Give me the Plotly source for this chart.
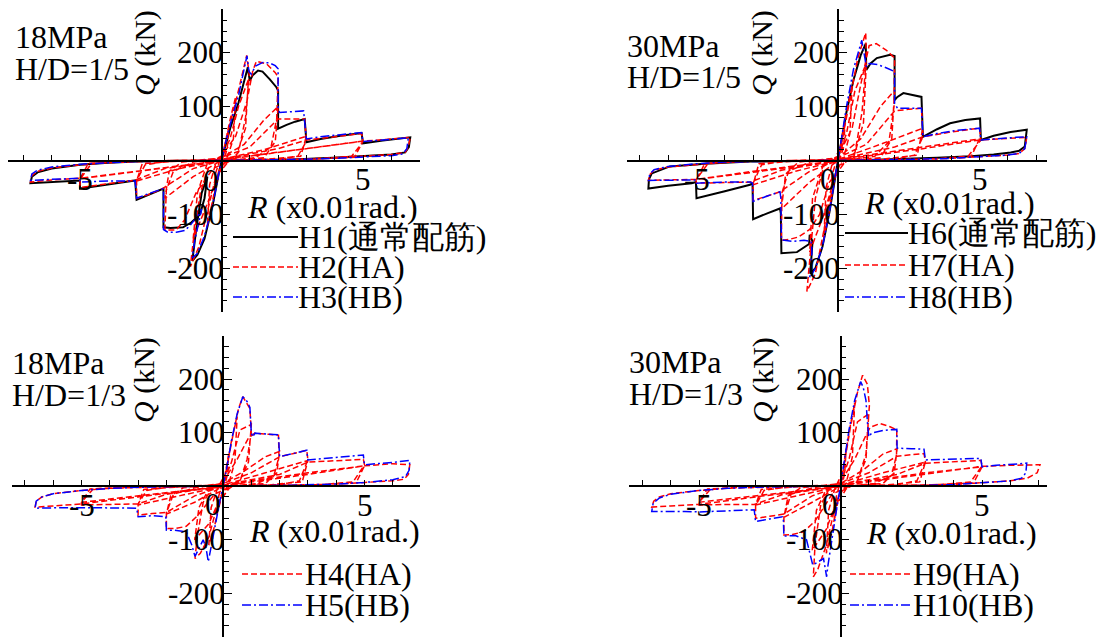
import plotly.graph_objects as go

W, H = 1102, 640
FONT = "Liberation Serif"

# ---------------- data: (R [x0.01 rad.], Q [kN]) ----------------
# 18MPa, H/D=1/5
h1 = [(0,0),(0.15,30),(0.32,62),(0.6,107),(0.85,155),(0.93,173),(1.0,148),(1.1,158),(1.29,167),(1.45,165),
      (1.7,151),(1.94,136),(2.0,130),(2.0,59),(2.3,66),(2.6,72),(2.94,77),(3.0,34),(3.5,40),(4.2,46),(4.95,51),
      (5.0,32),(5.7,37),(6.3,41),(6.67,43),(6.62,25),(6.49,15),(6.0,11),(5.0,8),(3.94,5),(2.5,2),(1.0,0.5),(0,0),
      (-0.1,-25),(-0.3,-80),(-0.6,-145),(-0.85,-175),(-1.03,-186),(-0.9,-130),(-0.7,-60),(-0.5,-30),(-0.6,-70),
      (-0.76,-100),(-1.07,-115),(-1.36,-124),(-1.8,-125),(-2.05,-124),(-2.05,-52),(-2.5,-62),(-3.0,-73),(-3.05,-37),
      (-4.0,-44),(-5.0,-52),(-5.0,-37),(-6.0,-40),(-6.75,-42),(-6.7,-30),(-6.5,-22),(-6.0,-15),(-5.0,-8),(-4.0,-4),
      (-3.0,-2),(-1.5,-0.5),(0,0)]
h2 = [(0,0),(0.12,30),(0.25,58),(0.2,20),(0.05,0),(-0.1,-25),(-0.25,-60),(-0.2,-22),(-0.05,0),
      (0.1,25),(0.3,75),(0.5,118),(0.42,40),(0.2,5),(-0.1,-20),(-0.3,-70),(-0.5,-122),(-0.42,-45),(-0.2,-5),
      (0.05,15),(0.3,65),(0.6,130),(0.8,175),(0.89,195),(0.98,160),(0.85,80),(0.6,15),(0.2,-5),(-0.2,-30),
      (-0.5,-95),(-0.8,-160),(-1.1,-197),(-1.0,-150),(-0.75,-60),(-0.4,-5),(0,5),
      (0.3,40),(0.6,100),(0.95,150),(0.85,60),(0.5,5),(0,-10),(-0.5,-80),(-1.0,-145),(-0.85,-60),(-0.5,-5),(0,8),
      (0.5,45),(0.9,110),(1.1,165),(1.23,184),(1.6,179),(1.9,163),(2.0,155),(1.95,77),(1.75,25),(1.2,5),(0.3,0),
      (-0.3,-15),(-0.9,-60),(-1.3,-110),(-1.6,-129),(-2.0,-129),(-1.95,-55),(-1.7,-20),(-1.0,-3),(0,5),
      (0.8,30),(1.5,75),(2.0,100),(1.9,35),(1.5,5),(0,0),(-1.0,-30),(-2.0,-70),(-1.85,-20),(-1.4,-3),(0,5),
      (1.0,25),(2.0,77),(2.5,77),(2.94,77),(3.0,36),(2.7,8),(2.0,2),(0,0),(-1.0,-15),(-2.08,-52),(-2.5,-62),
      (-3.0,-70),(-3.0,-37),(-2.7,-8),(-2.0,-2),(0,2),
      (1.5,20),(3.0,45),(2.8,8),(1.5,2),(0,0),(-1.5,-15),(-3.0,-38),(-2.8,-6),(-1.5,-1),(0,2),
      (2.0,22),(3.0,38),(4.0,44),(4.95,50),(5.0,35),(4.6,8),(3.5,3),(0,0),(-2.0,-15),(-3.09,-37),(-4.0,-43),
      (-5.0,-50),(-5.0,-35),(-4.6,-6),(-3.5,-2),(0,2),
      (3,22),(5,36),(4.7,6),(3,2),(0,0),(-3,-20),(-5,-34),(-4.7,-5),(-3,-1),(0,1),
      (3.0,22),(5.0,36),(5.8,39),(6.67,43),(6.6,25),(6.49,15),(6.0,11),(5.0,8),(3.94,5),(2.5,2),(0,0),
      (-3.0,-20),(-5.0,-33),(-6.0,-36),(-6.75,-40),(-6.7,-28),(-6.5,-20),(-6.0,-14),(-5.0,-8),(-4.0,-4),
      (-3.0,-2),(-1.5,0)]
h3 = [(0,0),(0.15,35),(0.35,75),(0.6,120),(0.8,170),(0.9,194),(0.97,165),(1.05,160),(1.2,175),(1.46,182),
      (1.7,181),(1.9,176),(2.0,170),(2.0,99),(2.05,89),(2.5,91),(2.9,92),(3.0,40),(3.5,44),(4.2,48),(4.95,52),
      (5.0,35),(5.7,38),(6.3,41),(6.6,42),(6.55,22),(6.4,12),(6.0,9),(5.0,6),(4.0,4),(2.5,2),(1.0,0.5),(0,0),
      (-0.1,-25),(-0.3,-80),(-0.6,-140),(-0.85,-172),(-1.03,-181),(-0.95,-150),(-0.7,-90),(-0.8,-100),(-1.1,-120),
      (-1.3,-130),(-1.6,-133),(-1.9,-133),(-2.05,-128),(-2.05,-52),(-2.5,-60),(-3.0,-70),(-3.05,-38),(-4.0,-38),
      (-5.0,-40),(-5.0,-33),(-6.0,-35),(-6.75,-37),(-6.7,-25),(-6.5,-18),(-6.0,-12),(-5.0,-7),(-4.0,-4),
      (-3.0,-2),(-1.5,-0.5),(0,0)]

# 30MPa, H/D=1/5
h6 = [(0,0),(0.1,30),(0.3,90),(0.55,150),(0.8,195),(0.98,217),(1.0,168),(1.15,180),(1.37,190),(1.84,196),
      (2.0,194),(2.0,112),(2.1,118),(2.31,125),(2.6,122),(2.95,118),(3.0,44),(3.5,58),(3.96,69),(4.5,75),
      (5.02,78),(5.05,38),(5.5,46),(6.1,53),(6.67,57),(6.6,26),(6.4,18),(6.1,15),(5.5,11),(4.7,8),(3.5,5),
      (2.0,2),(0.5,0),(0,0),
      (-0.1,-30),(-0.3,-95),(-0.55,-160),(-0.8,-200),(-0.98,-210),(-0.9,-150),(-1.0,-138),(-1.02,-155),
      (-1.45,-170),(-2.0,-172),(-2.02,-98),(-2.05,-89),(-2.5,-98),(-3.0,-109),(-3.02,-42),(-3.11,-45),(-4.0,-57),
      (-5.0,-70),(-5.02,-40),(-5.17,-42),(-6.0,-47),(-6.7,-52),(-6.68,-35),(-6.58,-24),(-5.94,-11),(-4.7,-6),
      (-3.1,-2),(-1.5,-0.5),(0,0)]
h7 = [(0,0),(0.12,35),(0.25,70),(0.2,25),(0.05,0),(-0.1,-30),(-0.25,-72),(-0.2,-25),(-0.05,0),
      (0.1,30),(0.3,90),(0.5,140),(0.42,50),(0.2,5),(-0.1,-25),(-0.3,-90),(-0.5,-145),(-0.42,-50),(-0.2,-5),
      (0.1,25),(0.4,110),(0.7,190),(0.98,237),(1.0,190),(0.85,90),(0.6,15),(0.2,-5),(-0.2,-40),(-0.5,-130),
      (-0.8,-210),(-1.1,-243),(-1.0,-180),(-0.8,-70),(-0.5,-10),(0,5),
      (0.3,50),(0.6,130),(1.0,180),(0.9,70),(0.55,5),(0,-10),(-0.5,-100),(-1.0,-170),(-0.9,-70),(-0.5,-5),(0,8),
      (0.5,60),(0.8,140),(1.0,190),(1.1,213),(1.35,217),(1.7,205),(2.0,190),(1.98,100),(1.8,35),(1.3,8),(0.3,0),
      (-0.3,-40),(-0.65,-100),(-1.0,-128),(-1.4,-142),(-1.7,-146),(-2.0,-148),(-1.98,-60),(-1.75,-20),(-1.0,-3),
      (0,5),
      (0.8,40),(1.5,100),(2.0,130),(1.9,40),(1.5,5),(0,0),(-1.0,-40),(-2.0,-90),(-1.85,-25),(-1.4,-3),(0,5),
      (1.0,30),(2.0,92),(2.5,95),(2.95,97),(3.0,44),(2.7,10),(2.0,2),(0,0),(-1.0,-20),(-2.05,-58),(-2.5,-66),
      (-3.0,-74),(-3.0,-42),(-2.7,-8),(-2.0,-2),(0,2),
      (1.5,30),(3.0,60),(2.8,10),(1.5,2),(0,0),(-1.5,-20),(-3.0,-45),(-2.8,-6),(-1.5,-1),(0,2),
      (2.0,25),(3.0,44),(4.0,53),(5.0,60),(5.05,38),(4.6,8),(3.5,3),(0,0),(-2.0,-18),(-3.1,-40),(-4.0,-41),
      (-5.0,-42),(-5.02,-36),(-4.6,-6),(-3.5,-2),(0,2),
      (3,25),(5,40),(4.7,7),(3,2),(0,0),(-3,-20),(-5,-35),(-4.7,-5),(-3,-1),(0,1),
      (3.0,22),(5.0,38),(6.0,41),(6.67,43),(6.6,22),(6.4,13),(6.0,10),(5.0,7),(4.0,4),(2.5,2),(0,0),
      (-3.0,-22),(-5.0,-35),(-6.0,-36),(-6.7,-37),(-6.65,-26),(-6.5,-18),(-6.0,-12),(-5.0,-7),(-4.0,-3),
      (-3.0,-1.5),(-1.5,0)]
h8 = [(0,0),(0.1,35),(0.3,100),(0.55,170),(0.75,210),(0.84,223),(0.95,190),(1.0,174),(1.1,180),(1.4,178),
      (1.7,172),(2.0,165),(2.0,106),(2.1,97),(2.5,97),(2.95,97),(3.0,44),(3.5,50),(4.2,56),(5.0,60),(5.05,38),
      (5.7,41),(6.3,43),(6.67,44),(6.6,22),(6.4,13),(6.0,10),(5.0,7),(4.0,4),(2.5,2),(1.0,0.5),(0,0),
      (-0.1,-30),(-0.3,-95),(-0.55,-160),(-0.8,-200),(-1.0,-218),(-0.92,-170),(-0.95,-150),(-1.2,-148),
      (-1.6,-150),(-2.0,-147),(-2.02,-70),(-2.05,-58),(-2.5,-66),(-3.0,-76),(-3.02,-42),(-3.1,-40),(-4.0,-40),
      (-5.0,-42),(-5.02,-36),(-6.0,-36),(-6.7,-37),(-6.65,-25),(-6.5,-17),(-6.0,-11),(-5.0,-6),(-4.0,-3),
      (-3.0,-1.5),(-1.5,-0.5),(0,0)]

# 18MPa, H/D=1/3
h4 = [(0,0),(0.1,30),(0.2,60),(0.15,20),(0.05,0),(-0.1,-25),(-0.2,-50),(-0.15,-18),(-0.05,0),
      (0.1,25),(0.3,85),(0.5,130),(0.42,45),(0.2,5),(-0.1,-25),(-0.3,-75),(-0.5,-110),(-0.42,-40),(-0.2,-5),
      (0.1,25),(0.35,95),(0.55,145),(0.7,167),(0.95,145),(1.0,100),(0.85,50),(0.6,10),(0.2,-5),(-0.2,-35),
      (-0.5,-95),(-0.8,-125),(-0.99,-135),(-0.9,-90),(-0.7,-30),(-0.4,-5),(0,5),
      (0.3,45),(0.6,105),(1.0,115),(0.9,45),(0.55,5),(0,-10),(-0.5,-70),(-1.0,-100),(-0.85,-40),(-0.5,-5),(0,8),
      (0.5,50),(0.9,90),(1.13,99),(1.6,97),(1.96,95),(1.98,55),(1.8,20),(1.2,5),(0.3,0),(-0.3,-15),(-0.9,-55),
      (-1.3,-75),(-1.7,-79),(-2.0,-79),(-2.0,-50),(-1.75,-15),(-1.0,-3),(0,5),
      (0.8,30),(1.5,55),(2.0,65),(1.9,25),(1.5,5),(0,0),(-1.0,-30),(-2.0,-52),(-1.85,-18),(-1.4,-3),(0,5),
      (1.0,25),(2.0,55),(2.5,61),(2.96,67),(3.0,49),(2.7,10),(2.0,3),(0,0),(-1.0,-18),(-2.0,-49),(-2.5,-51),
      (-3.0,-54),(-3.0,-33),(-2.7,-8),(-2.0,-2),(0,2),
      (1.5,25),(3.0,48),(2.8,8),(1.5,2),(0,0),(-1.5,-18),(-3.0,-35),(-2.8,-6),(-1.5,-1),(0,2),
      (2.0,22),(3.0,45),(4.0,47),(4.96,50),(5.0,40),(4.6,8),(3.5,3),(0,0),(-2.0,-15),(-3.0,-33),(-4.0,-34),
      (-5.0,-35),(-5.0,-30),(-4.6,-6),(-3.5,-2),(0,2),
      (3,25),(5,38),(4.7,6),(3,2),(0,0),(-3,-18),(-5,-30),(-4.7,-5),(-3,-1),(0,1),
      (3.0,22),(5.0,38),(6.0,42),(6.6,40),(6.55,22),(6.4,13),(6.0,10),(5.0,7),(4.0,4),(2.5,2),(0,0),
      (-3.0,-20),(-5.0,-33),(-6.0,-37),(-6.64,-39),(-6.6,-28),(-6.4,-20),(-6.0,-14),(-5.0,-8),(-4.0,-4),
      (-3.0,-2),(-1.5,0)]
h5 = [(0,0),(0.1,25),(0.3,85),(0.5,135),(0.7,167),(0.85,158),(0.95,147),(1.0,100),(1.05,92),(1.13,99),
      (1.6,97),(1.96,96),(2.0,55),(2.5,61),(2.96,67),(3.0,49),(3.5,51),(4.2,55),(4.96,58),(5.0,40),(5.5,42),
      (6.1,45),(6.6,48),(6.58,30),(6.45,18),(6.0,12),(5.0,7),(4.0,4),(2.5,2),(1.0,0.5),(0,0),
      (-0.1,-25),(-0.3,-80),(-0.45,-125),(-0.52,-141),(-0.6,-115),(-0.7,-100),(-0.99,-131),(-1.1,-110),
      (-1.3,-85),(-1.7,-82),(-2.0,-82),(-2.02,-57),(-2.5,-55),(-3.0,-57),(-3.05,-41),(-4.0,-40),(-5.0,-40),
      (-5.5,-40),(-6.0,-41),(-6.64,-41),(-6.6,-28),(-6.4,-20),(-6.0,-14),(-5.0,-8),(-4.0,-4),(-3.0,-2),
      (-1.5,-0.5),(0,0)]

# 30MPa, H/D=1/3
h9 = [(0,0),(0.1,35),(0.2,70),(0.15,25),(0.05,0),(-0.1,-30),(-0.2,-60),(-0.15,-20),(-0.05,0),
      (0.1,30),(0.3,100),(0.5,155),(0.42,55),(0.2,5),(-0.1,-25),(-0.3,-85),(-0.5,-125),(-0.42,-45),(-0.2,-5),
      (0.1,30),(0.35,110),(0.6,175),(0.78,207),(0.95,190),(1.02,150),(0.9,60),(0.6,10),(0.2,-5),(-0.2,-40),
      (-0.5,-110),(-0.8,-155),(-0.96,-169),(-0.9,-110),(-0.7,-35),(-0.4,-5),(0,5),
      (0.3,50),(0.6,120),(1.0,135),(0.9,50),(0.55,5),(0,-10),(-0.5,-80),(-1.0,-120),(-0.85,-45),(-0.5,-5),(0,8),
      (0.5,50),(0.9,95),(1.05,110),(1.4,117),(1.75,111),(1.99,105),(1.98,58),(1.8,20),(1.2,5),(0.3,0),
      (-0.3,-15),(-0.9,-65),(-1.3,-85),(-1.7,-90),(-2.0,-91),(-2.0,-57),(-1.75,-15),(-1.0,-3),(0,5),
      (0.8,30),(1.5,60),(2.0,70),(1.9,25),(1.5,5),(0,0),(-1.0,-30),(-2.0,-58),(-1.85,-18),(-1.4,-3),(0,5),
      (1.0,25),(2.0,56),(2.5,59),(2.95,61),(3.0,46),(2.7,10),(2.0,3),(0,0),(-1.0,-18),(-2.0,-52),(-2.5,-56),
      (-3.0,-60),(-3.0,-36),(-2.7,-8),(-2.0,-2),(0,2),
      (1.5,25),(3.0,45),(2.8,8),(1.5,2),(0,0),(-1.5,-18),(-3.0,-35),(-2.8,-6),(-1.5,-1),(0,2),
      (2.0,22),(3.0,43),(4.0,46),(4.96,48),(5.0,38),(4.6,8),(3.5,3),(0,0),(-2.0,-15),(-3.05,-34),(-4.0,-34),
      (-5.0,-35),(-5.0,-30),(-4.6,-6),(-3.5,-2),(0,2),
      (3,25),(5,36),(4.7,6),(3,2),(0,0),(-3,-18),(-5,-30),(-4.7,-5),(-3,-1),(0,1),
      (3.0,22),(5.0,37),(6.0,39),(7.05,40),(6.95,25),(6.6,15),(6.0,10),(5.0,6),(4.0,3),(2.5,1),(0,0),
      (-3.0,-20),(-5.0,-34),(-6.0,-37),(-6.67,-39),(-6.6,-28),(-6.4,-20),(-6.0,-14),(-5.0,-8),(-4.0,-4),
      (-3.0,-2),(-1.5,0)]
h10 = [(0,0),(0.1,35),(0.3,105),(0.5,160),(0.71,195),(0.8,185),(0.9,160),(0.95,120),(1.0,92),(1.1,99),
       (1.5,104),(1.99,106),(2.0,71),(2.5,70),(2.95,69),(3.0,49),(3.5,50),(4.2,51),(4.96,52),(5.0,36),(5.5,39),
       (6.1,41),(6.58,43),(6.55,25),(6.4,15),(6.0,10),(5.0,6),(4.0,3),(2.5,1),(1.0,0.5),(0,0),
       (-0.1,-30),(-0.3,-95),(-0.45,-150),(-0.49,-169),(-0.55,-150),(-0.6,-135),(-0.98,-147),(-1.05,-130),
       (-1.2,-100),(-1.6,-92),(-2.0,-93),(-2.02,-60),(-2.05,-57),(-2.5,-61),(-3.0,-66),(-3.05,-44),(-4.0,-46),
       (-5.0,-48),(-5.5,-47),(-6.0,-47),(-6.67,-47),(-6.62,-32),(-6.4,-22),(-6.0,-15),(-5.0,-8),(-4.0,-4),
       (-3.0,-2),(-1.5,-0.5),(0,0)]

# tick labels
x_tickvals = [-5, 5]
x_ticktext = ["-5", "5"]
y_tickvals = [-200, -100, 100, 200]
y_ticktext = ["-200", "-100", "100", "200"]

# ---------------- styles ----------------
STYLE = {
    "black": dict(color="black", width=2, dash="solid"),
    "red": dict(color="#ff0000", width=1.5, dash="6px,3px"),
    "blue": dict(color="#0000ff", width=1.5, dash="9px,3px,2px,3px"),
}
TICK_FS = 31
TEXT_FS = 32

panels = [
    dict(xpx=(8.3, 420), ox=221.5, rows=(9.3, 311.7), oy=160.5, sy=0.539,
         series=[("H1(通常配筋)", h1, "black"), ("H2(HA)", h2, "red"), ("H3(HB)", h3, "blue")],
         label=("18MPa", "H/D=1/5"), lab_x=15, lab_y=(37, 69),
         qtitle=(145, 53), rtitle=(332, 207), zero=(211, 180),
         leg_x=(233, 298), leg_y=[237, 267, 297]),
    dict(xpx=(626.7, 1047), ox=838, rows=(9.3, 311.7), oy=160.5, sy=0.539,
         series=[("H6(通常配筋)", h6, "black"), ("H7(HA)", h7, "red"), ("H8(HB)", h8, "blue")],
         label=("30MPa", "H/D=1/5"), lab_x=627, lab_y=(46, 77),
         qtitle=(762, 53), rtitle=(949, 203), zero=(828, 179),
         leg_x=(845, 908), leg_y=[233, 265, 297]),
    dict(xpx=(11.7, 420), ox=223, rows=(336, 636.7), oy=486.2, sy=0.536,
         series=[("H4(HA)", h4, "red"), ("H5(HB)", h5, "blue")],
         label=("18MPa", "H/D=1/3"), lab_x=12, lab_y=(363, 395),
         qtitle=(144, 380), rtitle=(334, 531), zero=(213, 504),
         leg_x=(242, 305), leg_y=[574, 605]),
    dict(xpx=(629.3, 1047), ox=840.5, rows=(336, 636.7), oy=486.2, sy=0.536,
         series=[("H9(HA)", h9, "red"), ("H10(HB)", h10, "blue")],
         label=("30MPa", "H/D=1/3"), lab_x=629, lab_y=(362, 394),
         qtitle=(763, 380), rtitle=(951, 533), zero=(830, 504),
         leg_x=(850, 913), leg_y=[574, 605]),
]
SX = 28.3

fig = go.Figure()
annotations = []
shapes = []


def ann(text, px, py, xanchor="center", yanchor="middle", angle=0, size=TEXT_FS):
    return dict(text=text, x=px / W, y=1 - py / H, xref="paper", yref="paper",
                xanchor=xanchor, yanchor=yanchor, textangle=angle, showarrow=False,
                font=dict(family=FONT, size=size, color="black"))


layout_axes = {}
draw_order = {"black": 0, "red": 1, "blue": 2}
for i, p in enumerate(panels, start=1):
    xa = "x" if i == 1 else f"x{i}"
    ya = "y" if i == 1 else f"y{i}"
    x0, x1 = p["xpx"]
    r0, r1 = p["rows"]
    xr = [(x0 - p["ox"]) / SX, (x1 - p["ox"]) / SX]
    yr = [(p["oy"] - r1) / p["sy"], (p["oy"] - r0) / p["sy"]]
    xdom = [x0 / W, x1 / W]
    ydom = [1 - r1 / H, 1 - r0 / H]
    xpos = p["ox"] / W
    ypos = 1 - p["oy"] / H
    layout_axes["xaxis" if i == 1 else f"xaxis{i}"] = dict(
        domain=xdom, range=xr, anchor="free", position=ypos, side="bottom",
        showline=True, linecolor="black", linewidth=1.5, showgrid=False, zeroline=False,
        tickmode="array", tickvals=x_tickvals, showticklabels=False,
        ticks="inside", ticklen=5, tickwidth=1.2, tickcolor="black",
        minor=dict(dtick=1, tick0=0, ticks="inside", ticklen=5, tickwidth=1.2, tickcolor="black"),
        fixedrange=True)
    layout_axes["yaxis" if i == 1 else f"yaxis{i}"] = dict(
        domain=ydom, range=yr, anchor="free", position=xpos, side="left",
        showline=True, linecolor="black", linewidth=1.5, showgrid=False, zeroline=False,
        tickmode="array", tickvals=y_tickvals, showticklabels=False,
        ticks="inside", ticklen=8, tickwidth=1.2, tickcolor="black",
        minor=dict(dtick=20, tick0=0, ticks="inside", ticklen=5, tickwidth=1.2, tickcolor="black"),
        fixedrange=True)

    for name, data, sty in sorted(p["series"], key=lambda s: draw_order[s[2]]):
        fig.add_trace(go.Scatter(
            x=[d[0] for d in data], y=[d[1] for d in data], mode="lines", name=name,
            line=STYLE[sty], xaxis=xa, yaxis=ya, showlegend=False, hoverinfo="skip"))

    # tick labels placed at axis values next to the crossing axes
    for v, t in zip(y_tickvals, y_ticktext):
        annotations.append(dict(text=t, x=0, y=v, xref=xa, yref=ya, xanchor="right", yanchor="middle",
                                xshift=4, showarrow=False,
                                font=dict(family=FONT, size=TICK_FS, color="black")))
    for v, t in zip(x_tickvals, x_ticktext):
        annotations.append(dict(text=t, x=v, y=0, xref=xa, yref=ya, xanchor="center", yanchor="middle",
                                yshift=-19, showarrow=False,
                                font=dict(family=FONT, size=TICK_FS, color="black")))

    # manual legend
    for (name, data, sty), ly in zip(p["series"], p["leg_y"]):
        st = STYLE[sty]
        shapes.append(dict(type="line", xref="paper", yref="paper",
                           x0=p["leg_x"][0] / W, x1=p["leg_x"][1] / W,
                           y0=1 - ly / H, y1=1 - ly / H,
                           line=dict(color=st["color"], width=st["width"], dash=st["dash"])))
        annotations.append(ann(name, p["leg_x"][1] - 2, ly, xanchor="left"))

    annotations.append(ann(p["label"][0], p["lab_x"] - 2, p["lab_y"][0], xanchor="left"))
    annotations.append(ann(p["label"][1], p["lab_x"] - 2, p["lab_y"][1], xanchor="left"))
    annotations.append(ann("<i>Q</i> (kN)", p["qtitle"][0], p["qtitle"][1], angle=-90, size=30))
    annotations.append(ann("<i>R</i> (x0.01rad.)", p["rtitle"][0], p["rtitle"][1]))
    annotations.append(ann("0", p["zero"][0], p["zero"][1], size=TICK_FS))

fig.update_layout(
    width=W, height=H, margin=dict(l=0, r=0, t=0, b=0),
    paper_bgcolor="white", plot_bgcolor="rgba(0,0,0,0)",
    showlegend=False, annotations=annotations, shapes=shapes,
    font=dict(family=FONT, size=30, color="black"),
    **layout_axes)

fig.write_html("out.html", config={"displayModeBar": False},
               post_script="document.body.style.margin='0px';")
